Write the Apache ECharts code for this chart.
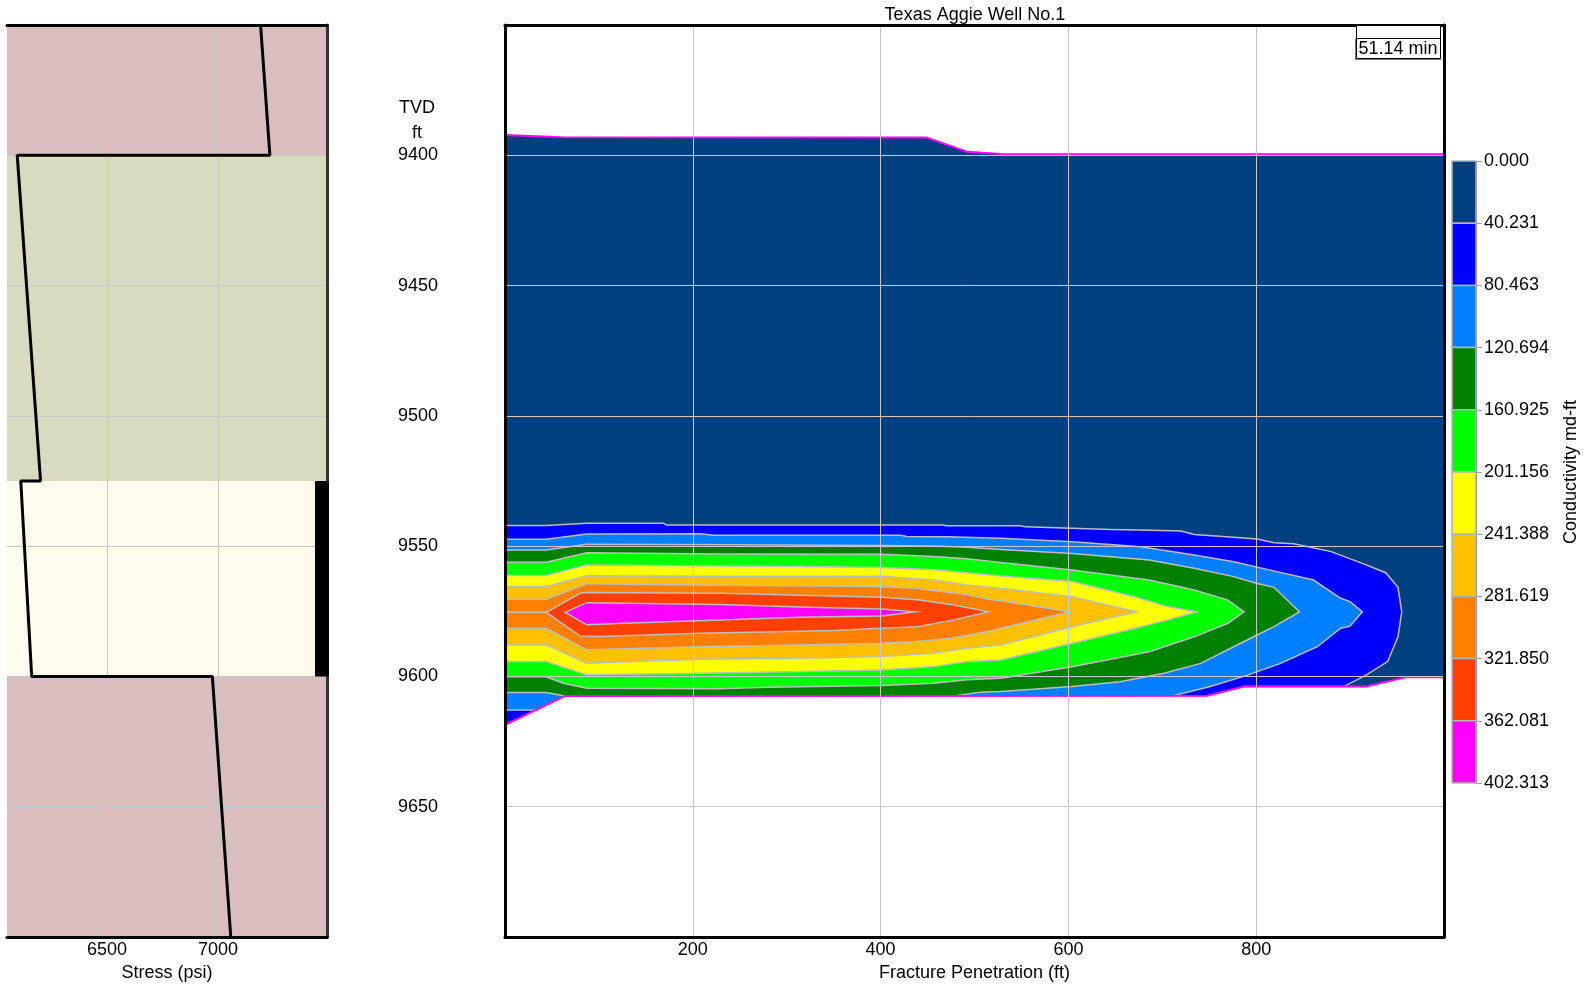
<!DOCTYPE html>
<html><head><meta charset="utf-8">
<script src="https://cdn.jsdelivr.net/npm/echarts@6/dist/echarts.min.js"></script>
<style>html,body{margin:0;padding:0;background:#fff}#c{width:1591px;height:987px}</style>
</head><body><div id="c"></div>
<script>
// ---------- data ----------
const titleText = 'Texas Aggie Well No.1';
const timeLabel = '51.14 min';
const depthRange = [9350, 9700];
const stressRange = [6050, 7490];
const stressTicks = [6500, 7000];
const penetrationRange = [0, 1000];

// left panel: formation layers (TVD ft)
const layerTops = [9350, 9400, 9525, 9600];
const layerBottoms = [9400, 9525, 9600, 9700];
const layerColors = ['#D9BEBF', '#DADAC0', '#FEFAEE', '#D9BEBF'];
// stress profile [psi, TVD]
const stressProfile = [[7191, 9350], [7233, 9400], [6096, 9400], [6201, 9525], [6112, 9525], [6161, 9600], [6974, 9600], [7057, 9700]];
// perforated interval (TVD ft)
const perforation = [9525, 9600];

// colorbar
const conductivityLevels = ['0.000', '40.231', '80.463', '120.694', '160.925', '201.156', '241.388', '281.619', '321.850', '362.081', '402.313'];
const bandColors = ['#004080', '#0000FF', '#0080FF', '#008000', '#00FF00', '#FFFF00', '#FFC000', '#FF8000', '#FF4000', '#FF00FF'];

// contour regions [penetration ft, TVD ft]
const fractureEnvelope = [[0, 9392.2], [60, 9393.1], [449, 9393.2], [492, 9398.6], [528, 9399.5], [1000, 9399.6], [1000, 9600.3], [959, 9600.3], [917, 9603.9], [787, 9603.9], [748, 9607.4], [64, 9607.5], [0, 9618.6]];
const contour40 = [[0, 9542.1], [44, 9542.1], [87, 9541.2], [169, 9541.2], [172, 9541.9], [467, 9541.9], [470, 9542.2], [549, 9542.2], [554, 9542.6], [645, 9543.6], [675, 9543.8], [720, 9544.2], [734, 9545.5], [776, 9546.6], [801, 9547.3], [819, 9548.7], [840, 9549.1], [880, 9552.1], [913, 9556.6], [938, 9560.2], [951, 9565.8], [955, 9575.2], [951, 9584.8], [940, 9594.3], [917, 9599.5], [893, 9603.9], [787, 9603.9], [748, 9607.4], [64, 9607.5], [0, 9618.6]];
const contour80 = [[0, 9547.4], [44, 9547.4], [87, 9545.3], [208, 9545.2], [222, 9545.8], [421, 9545.8], [428, 9546.3], [470, 9546.4], [528, 9547.0], [604, 9548.3], [677, 9550.2], [734, 9553.4], [776, 9556.0], [815, 9559.2], [861, 9563.0], [890, 9570.0], [900, 9571.3], [913, 9575.2], [900, 9580.7], [890, 9581.5], [865, 9588.6], [826, 9595.0], [791, 9599.5], [751, 9603.9], [712, 9607.4], [64, 9607.5], [34, 9612.9], [0, 9612.9]];
const contour121 = [[0, 9551.5], [44, 9551.5], [87, 9549.3], [243, 9549.5], [401, 9549.8], [457, 9549.9], [492, 9550.4], [528, 9551.3], [604, 9552.8], [686, 9555.3], [734, 9558.5], [776, 9561.7], [801, 9564.3], [819, 9565.8], [846, 9575.2], [819, 9580.9], [801, 9584.1], [776, 9588.6], [741, 9595.0], [702, 9598.8], [655, 9602.0], [604, 9603.9], [528, 9605.8], [506, 9606.1], [486, 9607.1], [480, 9607.45], [64, 9607.5], [44, 9606.2], [0, 9606.2]];
const contour161 = [[0, 9556.2], [44, 9556.2], [87, 9552.5], [229, 9553.0], [401, 9553.1], [457, 9554.0], [492, 9554.8], [528, 9556.3], [604, 9559.2], [686, 9563.0], [734, 9566.8], [770, 9570.7], [787, 9575.2], [770, 9579.6], [734, 9584.8], [686, 9590.5], [604, 9596.3], [528, 9600.7], [492, 9601.3], [457, 9602.6], [401, 9603.5], [279, 9604.2], [229, 9604.7], [87, 9604.5], [62, 9602.6], [44, 9600.1], [0, 9600.1]];
const contour201 = [[0, 9561.3], [44, 9561.3], [87, 9557.2], [229, 9557.6], [314, 9557.8], [401, 9558.2], [457, 9559.1], [514, 9561.0], [528, 9561.5], [604, 9563.6], [670, 9569.4], [705, 9573.2], [737, 9575.2], [705, 9578.4], [670, 9581.6], [604, 9587.3], [528, 9593.7], [492, 9594.3], [457, 9596.2], [401, 9597.5], [314, 9598.1], [208, 9598.8], [87, 9599.4], [44, 9594.3], [0, 9594.3]];
const contour241 = [[0, 9565.5], [44, 9565.5], [87, 9561.4], [229, 9561.6], [401, 9561.6], [457, 9563.0], [492, 9564.9], [528, 9566.2], [604, 9569.4], [673, 9575.2], [604, 9580.9], [528, 9587.9], [492, 9589.2], [457, 9591.1], [401, 9592.4], [314, 9593.0], [208, 9593.4], [87, 9594.9], [44, 9587.9], [0, 9587.9]];
const contour282 = [[0, 9570.4], [44, 9570.4], [87, 9564.4], [229, 9565.0], [401, 9565.5], [437, 9566.2], [457, 9567.0], [492, 9568.6], [514, 9570.3], [528, 9571.0], [602, 9575.2], [528, 9581.5], [514, 9582.8], [474, 9585.4], [438, 9586.6], [401, 9587.3], [314, 9587.9], [208, 9588.6], [87, 9589.8], [44, 9581.5], [0, 9581.5]];
const contour322 = [[0, 9575.4], [44, 9575.4], [80, 9568.1], [87, 9567.8], [229, 9568.1], [401, 9569.6], [439, 9570.6], [478, 9572.6], [515, 9575.2], [478, 9578.3], [439, 9580.9], [401, 9581.5], [350, 9582.4], [208, 9583.4], [101, 9584.7], [80, 9584.5], [44, 9575.4], [0, 9575.4]];
const contour362 = [[64, 9575.4], [87, 9571.7], [229, 9572.4], [314, 9573.4], [401, 9574.1], [437, 9575.2], [401, 9576.8], [314, 9577.3], [229, 9578.3], [126, 9579.6], [87, 9580.2], [64, 9575.4]];

const contourRegions = [fractureEnvelope, contour40, contour80, contour121, contour161, contour201, contour241, contour282, contour322, contour362];

// ---------- chart ----------
const FONT = "'Liberation Sans', Arial, Helvetica, sans-serif";
const txt = { color: '#000', fontFamily: FONT, fontSize: 18 };
const plainNum = v => String(v);
const gridLine = { show: true, lineStyle: { color: '#C8C8C8', width: 1 } };
const noSplit = { show: false };
const borderAxis = (color) => ({ show: true, onZero: false, lineStyle: { color: color, width: 3 } });

const chart = echarts.init(document.getElementById('c'), null, { renderer: 'canvas' });

const option = {
  animation: false,
  backgroundColor: '#fff',
  textStyle: { fontFamily: FONT },
  grid: [
    { left: 7, top: 25, width: 320, height: 912 },
    { left: 505, top: 25, width: 939, height: 912 },
    { left: 1452, top: 161, width: 24, height: 622 }
  ],
  xAxis: [
    { gridIndex: 0, type: 'value', min: stressRange[0], max: stressRange[1], position: 'bottom', z: 5,
      axisLine: borderAxis('#000'),
      axisTick: { show: false, customValues: stressTicks },
      axisLabel: Object.assign({ customValues: stressTicks, margin: 4, formatter: plainNum }, txt),
      splitLine: gridLine,
      name: 'Stress (psi)', nameLocation: 'middle', nameGap: 24, nameTextStyle: txt },
    { gridIndex: 1, type: 'value', min: penetrationRange[0], max: penetrationRange[1], interval: 200, position: 'bottom', z: 5,
      axisLine: borderAxis('#000'),
      axisTick: { show: false },
      axisLabel: Object.assign({ margin: 4, showMinLabel: false, showMaxLabel: false, formatter: plainNum }, txt),
      splitLine: gridLine,
      name: 'Fracture Penetration (ft)', nameLocation: 'middle', nameGap: 24, nameTextStyle: txt },
    { gridIndex: 0, type: 'value', position: 'top', z: 5, axisLine: borderAxis('#000'), axisTick: { show: false }, axisLabel: { show: false }, splitLine: noSplit },
    { gridIndex: 1, type: 'value', position: 'top', z: 5, axisLine: borderAxis('#000'), axisTick: { show: false }, axisLabel: { show: false }, splitLine: noSplit },
    { gridIndex: 2, type: 'value', min: 0, max: 1, show: false }
  ],
  yAxis: [
    { gridIndex: 0, type: 'value', min: depthRange[0], max: depthRange[1], interval: 50, inverse: true, z: 5,
      axisLine: { show: false }, axisTick: { show: false }, axisLabel: { show: false }, splitLine: gridLine },
    { gridIndex: 1, type: 'value', min: depthRange[0], max: depthRange[1], interval: 50, inverse: true, z: 5,
      axisLine: borderAxis('#000'), axisTick: { show: false },
      axisLabel: Object.assign({ margin: 67, showMinLabel: false, showMaxLabel: false, formatter: plainNum }, txt),
      splitLine: gridLine },
    { gridIndex: 0, type: 'value', position: 'right', min: depthRange[0], max: depthRange[1], inverse: true, z: 5,
      axisLine: borderAxis('#333'), axisTick: { show: false }, axisLabel: { show: false }, splitLine: noSplit },
    { gridIndex: 1, type: 'value', position: 'right', min: depthRange[0], max: depthRange[1], inverse: true, z: 5,
      axisLine: borderAxis('#000'), axisTick: { show: false }, axisLabel: { show: false }, splitLine: noSplit },
    { gridIndex: 2, type: 'category', data: conductivityLevels, boundaryGap: false, inverse: true, position: 'right', z: 5,
      axisLine: { show: true, onZero: false, lineStyle: { color: '#9A9AB0', width: 1 } },
      axisTick: { show: true, interval: 0, length: 6, lineStyle: { color: '#A0A0A0' } },
      axisLabel: Object.assign({ interval: 0, margin: 8 }, txt),
      splitLine: noSplit,
      name: 'Conductivity md-ft', nameLocation: 'middle', nameRotate: 90, nameGap: 86, nameTextStyle: txt }
  ],
  series: [
    { // formation layers
      type: 'custom', xAxisIndex: 0, yAxisIndex: 0, z: 1, silent: true,
      data: layerTops.map(t => [stressRange[0], t]),
      renderItem: function (params, api) {
        const i = params.dataIndex;
        const p1 = api.coord([stressRange[0], layerTops[i]]);
        const p2 = api.coord([stressRange[1], layerBottoms[i]]);
        return { type: 'rect', shape: { x: p1[0], y: p1[1], width: p2[0] - p1[0], height: p2[1] - p1[1] }, style: { fill: layerColors[i] } };
      }
    },
    { // stress profile
      type: 'line', xAxisIndex: 0, yAxisIndex: 0, z: 10, silent: true,
      data: stressProfile, showSymbol: false, symbol: 'none',
      lineStyle: { color: '#000', width: 3 }
    },
    { // perforations
      type: 'custom', xAxisIndex: 0, yAxisIndex: 0, z: 10, silent: true,
      data: [[stressRange[1], perforation[0]]],
      renderItem: function (params, api) {
        const p1 = api.coord([stressRange[1], perforation[0]]);
        const p2 = api.coord([stressRange[1], perforation[1]]);
        return { type: 'rect', shape: { x: p1[0] - 12, y: p1[1], width: 14, height: p2[1] - p1[1] }, style: { fill: '#000' } };
      }
    },
    { // conductivity contour fills
      type: 'custom', xAxisIndex: 1, yAxisIndex: 1, z: 2, silent: true,
      data: contourRegions.map(r => r[0]),
      renderItem: function (params, api) {
        const i = params.dataIndex;
        const pts = contourRegions[i].map(p => api.coord(p));
        return { type: 'polygon', shape: { points: pts },
          style: { fill: bandColors[i], stroke: i === 0 ? null : '#BEBEBE', lineWidth: i === 0 ? 0 : 1.5 } };
      }
    },
    { // fracture envelope outline
      type: 'custom', xAxisIndex: 1, yAxisIndex: 1, z: 3, silent: true,
      data: [fractureEnvelope[0]],
      renderItem: function (params, api) {
        const pts = fractureEnvelope.map(p => api.coord(p));
        return { type: 'polygon', shape: { points: pts }, style: { fill: null, stroke: '#FF00FF', lineWidth: 2 } };
      }
    },
    { // colorbar
      type: 'custom', xAxisIndex: 4, yAxisIndex: 4, z: 2, silent: true,
      data: bandColors.map((c, i) => [0, i]),
      renderItem: function (params, api) {
        const i = params.dataIndex;
        const p1 = api.coord([0, i]);
        const p2 = api.coord([1, i + 1]);
        return { type: 'rect', shape: { x: p1[0], y: p1[1], width: p2[0] - p1[0], height: p2[1] - p1[1] },
          style: { fill: bandColors[i], stroke: '#B4B4B4', lineWidth: 1.5 } };
      }
    }
  ],
  graphic: [
    { type: 'text', x: 975, y: 15, z: 100, style: { text: titleText, fontSize: 18, fontFamily: FONT, fill: '#000', align: 'center', verticalAlign: 'middle' } },
    { type: 'text', x: 417, y: 108, z: 100, style: { text: 'TVD', fontSize: 18, fontFamily: FONT, fill: '#000', align: 'center', verticalAlign: 'middle' } },
    { type: 'text', x: 417, y: 133, z: 100, style: { text: 'ft', fontSize: 18, fontFamily: FONT, fill: '#000', align: 'center', verticalAlign: 'middle' } },
    { type: 'rect', z: 100, shape: { x: 1356.5, y: 25.5, width: 84, height: 33 }, style: { fill: '#fff', stroke: '#000', lineWidth: 1 } },
    { type: 'line', z: 101, shape: { x1: 1356.5, y1: 38.5, x2: 1440.5, y2: 38.5 }, style: { stroke: '#000', lineWidth: 1 } },
    { type: 'polyline', z: 101, shape: { points: [[1355.5, 39], [1355.5, 59.5], [1441.5, 59.5]] }, style: { stroke: '#777', lineWidth: 1, fill: null } },
    { type: 'text', x: 1398, y: 49, z: 102, style: { text: timeLabel, fontSize: 18, fontFamily: FONT, fill: '#000', align: 'center', verticalAlign: 'middle' } }
  ]
};
chart.setOption(option);
</script>
</body></html>
